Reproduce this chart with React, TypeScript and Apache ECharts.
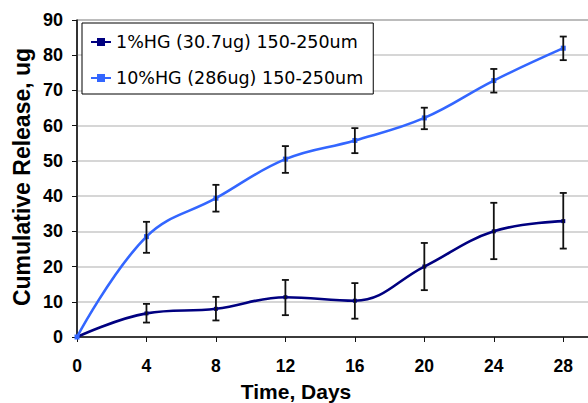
import React, { useEffect, useRef } from "react";
import * as echarts from "echarts";

const days = [0, 4, 8, 12, 16, 20, 24, 28];
const lowName = "1%HG (30.7ug) 150-250um";
const highName = "10%HG (286ug) 150-250um";
const lowMean = [0, 6.7, 8.0, 11.3, 10.3, 20.0, 30.0, 32.9];
const lowErrMin = [0, 4.1, 4.7, 6.2, 5.2, 13.3, 22.1, 25.1];
const lowErrMax = [0, 9.4, 11.4, 16.2, 15.3, 26.7, 38.1, 40.9];
const highMean = [0, 28.5, 39.4, 50.5, 55.8, 62.2, 72.8, 82.0];
const highErrMin = [0, 23.9, 35.6, 46.6, 52.2, 59.0, 69.4, 78.6];
const highErrMax = [0, 32.7, 43.2, 54.2, 59.3, 65.1, 76.1, 85.3];
const xTitle = "Time, Days";
const yTitle = "Cumulative Release, ug";

export default function App() {
  const ref = useRef<HTMLDivElement>(null);
  useEffect(() => {
    if (!ref.current) return;
    const chart = echarts.init(ref.current, null, { renderer: "svg" });
    const errData = (lo: number[], hi: number[]) =>
      days.map((d, i) => [d, lo[i], hi[i]]).filter((r) => r[2] - r[1] > 0);
    const renderErr = (params: any, api: any) => {
      const x = api.value(0);
      const p1 = api.coord([x, api.value(1)]);
      const p2 = api.coord([x, api.value(2)]);
      const w = 3.5;
      const style = { stroke: "#111", lineWidth: 1.8 };
      return {
        type: "group",
        children: [
          { type: "line", shape: { x1: p1[0], y1: p1[1], x2: p2[0], y2: p2[1] }, style },
          { type: "line", shape: { x1: p1[0] - w, y1: p1[1], x2: p1[0] + w, y2: p1[1] }, style },
          { type: "line", shape: { x1: p2[0] - w, y1: p2[1], x2: p2[0] + w, y2: p2[1] }, style },
        ],
      };
    };
    const font = "'Liberation Sans', Arial, Helvetica, sans-serif";
    chart.setOption({
      animation: false,
      backgroundColor: "#fff",
      grid: {
        left: 77,
        top: 20,
        width: 521,
        height: 317,
        containLabel: false,
        outerBoundsMode: "none",
        show: true,
        borderColor: "#333",
        borderWidth: 1,
      },
      legend: {
        data: [lowName, highName],
        orient: "vertical",
        left: 82,
        top: 23,
        backgroundColor: "#fff",
        borderColor: "#000",
        borderWidth: 1,
        borderRadius: 0,
        padding: [9, 10, 6, 8],
        itemGap: 16,
        itemWidth: 20,
        itemHeight: 10,
        textStyle: {
          fontFamily: "'DejaVu Sans', sans-serif",
          fontSize: 17.5,
          color: "#000",
          lineHeight: 20,
        },
      },
      xAxis: {
        type: "value",
        min: 0,
        max: 30,
        interval: 4,
        axisLine: { show: true, lineStyle: { color: "#111", width: 1.5 } },
        axisTick: { show: true, length: 5, lineStyle: { color: "#111", width: 1 } },
        splitLine: { show: false },
        axisLabel: {
          margin: 20,
          color: "#000",
          fontFamily: font,
          fontWeight: "bold",
          fontSize: 17.5,
          formatter: (v: number) => (v > 28 ? "" : String(v)),
        },
      },
      yAxis: {
        type: "value",
        min: 0,
        max: 90,
        interval: 10,
        axisLine: { show: true, lineStyle: { color: "#111", width: 1.5 } },
        axisTick: { show: true, length: 5, lineStyle: { color: "#111", width: 1 } },
        splitLine: { show: true, lineStyle: { color: "#c8c8c8", width: 1.5 } },
        axisLabel: {
          margin: 14,
          color: "#000",
          fontFamily: font,
          fontWeight: "bold",
          fontSize: 18,
        },
      },
      graphic: [
        {
          type: "text",
          x: 296,
          y: 391,
          style: {
            text: xTitle,
            fontFamily: font,
            fontWeight: "bold",
            fontSize: 21,
            fill: "#000",
            align: "center",
            verticalAlign: "middle",
          },
        },
        {
          type: "text",
          x: 22,
          y: 177,
          rotation: Math.PI / 2,
          style: {
            text: yTitle,
            fontFamily: font,
            fontWeight: "bold",
            fontSize: 23,
            fill: "#000",
            align: "center",
            verticalAlign: "middle",
          },
        },
      ],
      series: [
        {
          name: lowName,
          type: "line",
          smooth: 0.4,
          data: days.map((d, i) => [d, lowMean[i]]),
          lineStyle: { color: "#000080", width: 2.6 },
          itemStyle: { color: "#000080" },
          symbol: "rect",
          symbolSize: 4,
          z: 3,
        },
        {
          name: highName,
          type: "line",
          smooth: 0.4,
          data: days.map((d, i) => [d, highMean[i]]),
          lineStyle: { color: "#3366FF", width: 2.6 },
          itemStyle: { color: "#3366FF" },
          symbol: "rect",
          symbolSize: 5,
          z: 3,
        },
        {
          name: "err-low",
          type: "custom",
          renderItem: renderErr,
          data: errData(lowErrMin, lowErrMax),
          encode: { x: 0, y: [1, 2] },
          z: 4,
        },
        {
          name: "err-high",
          type: "custom",
          renderItem: renderErr,
          data: errData(highErrMin, highErrMax),
          encode: { x: 0, y: [1, 2] },
          z: 4,
        },
      ],
    });
    return () => chart.dispose();
  }, []);
  return <div ref={ref} style={{ width: 588, height: 403, position: "absolute", left: 0, top: 0 }} />;
}
